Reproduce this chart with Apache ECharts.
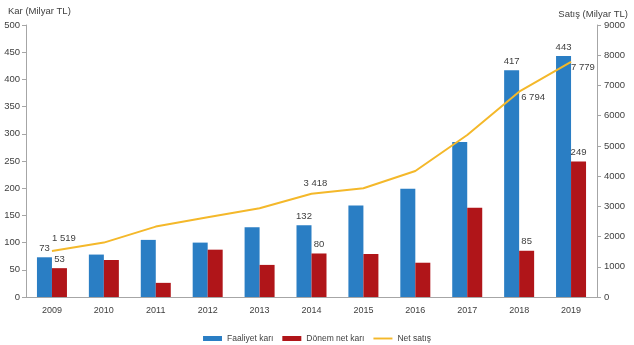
<!DOCTYPE html>
<html><head><meta charset="utf-8">
<script src="https://cdn.jsdelivr.net/npm/echarts@6/dist/echarts.min.js"></script>
<style>html,body{margin:0;padding:0;background:#fff}#c{width:634px;height:345px}</style>
</head><body><div id="c"></div>
<script>
const years = ['2009','2010','2011','2012','2013','2014','2015','2016','2017','2018','2019'];
const faaliyetKari = [73, 78, 105, 100, 128, 132, 168, 199, 285, 417, 443];
const donemNetKari = [53, 68, 26, 87, 59, 80, 79, 63, 164, 85, 249];
const netSatis = [1519, 1800, 2330, 2640, 2935, 3418, 3600, 4170, 5360, 6794, 7779];
const faaliyetLabelIdx = [0, 5, 9, 10];
const donemLabelIdx = [0, 5, 9, 10];
const satisLabelIdx = [0, 5, 9, 10];

const txt = '#404040';
const font = 'Liberation Sans';
function fmt(v){ return String(v).replace(/\B(?=(\d{3})+(?!\d))/g, ' '); }

const chart = echarts.init(document.getElementById('c'));
chart.setOption({
  animation: false,
  textStyle: {fontFamily: font, color: txt},
  grid: {left: 26, right: 37, top: 25, bottom: 48},
  legend: {
    top: 329, left: 'center', itemWidth: 19, itemHeight: 5, itemGap: 9,
    textStyle: {fontFamily: font, fontSize: 8.5, color: txt},
    data: [{name:'Faaliyet karı', icon:'rect'}, {name:'Dönem net karı', icon:'rect'},
           {name:'Net satış', icon:'path://M0,0 L20,0 L20,2 L0,2 Z'}]
  },
  xAxis: {
    type: 'category', data: years,
    axisLine: {lineStyle: {color: '#a6a6a6'}},
    axisTick: {show: false},
    axisLabel: {color: txt, fontSize: 9, fontFamily: font, margin: 9}
  },
  yAxis: [
    {type: 'value', min: 0, max: 500, interval: 50,
     name: 'Kar (Milyar TL)', nameLocation: 'end', nameGap: 9,
     nameTextStyle: {color: txt, fontSize: 9.5, fontFamily: font, align: 'left', padding: [0,0,0,-18]},
     axisLine: {show: true, lineStyle: {color: '#a6a6a6'}},
     axisTick: {show: true, length: 4, lineStyle: {color: '#a6a6a6'}},
     splitLine: {show: false},
     axisLabel: {color: txt, fontSize: 9.5, fontFamily: font, margin: 6}},
    {type: 'value', min: 0, max: 9000, interval: 1000,
     name: 'Satış (Milyar TL)', nameLocation: 'end', nameGap: 6,
     nameTextStyle: {color: txt, fontSize: 9.5, fontFamily: font, align: 'right', padding: [0,-31,0,0]},
     axisLine: {show: true, lineStyle: {color: '#a6a6a6'}},
     axisTick: {show: true, length: 4, lineStyle: {color: '#a6a6a6'}},
     splitLine: {show: false},
     axisLabel: {color: txt, fontSize: 9.5, fontFamily: font, margin: 7, formatter: v => String(v)}}
  ],
  series: [
    {name: 'Faaliyet karı', type: 'bar', yAxisIndex: 0, barWidth: 15, barGap: '0%',
     itemStyle: {color: '#2a7ec4'},
     data: faaliyetKari.map((v,i)=>({value:v, label:{show: faaliyetLabelIdx.includes(i)}})),
     label: {position: 'top', color: txt, fontSize: 9.5, fontFamily: font, distance: 4}},
    {name: 'Dönem net karı', type: 'bar', yAxisIndex: 0, barWidth: 15, barGap: '0%',
     itemStyle: {color: '#b01519'},
     data: donemNetKari.map((v,i)=>({value:v, label:{show: donemLabelIdx.includes(i)}})),
     label: {position: 'top', color: txt, fontSize: 9.5, fontFamily: font, distance: 4}},
    {name: 'Net satış', type: 'line', yAxisIndex: 1, symbol: 'circle', symbolSize: 0.1, showSymbol: true,
     lineStyle: {color: '#f4b82a', width: 2}, itemStyle: {color: '#f4b82a'},
     data: netSatis.map((v,i)=>{
       const o = {value: v, label: {show: satisLabelIdx.includes(i)}};
       if (i === 0) { o.label.offset = [12, -3]; }
       if (i === 5) { o.label.offset = [4, 0]; }
       if (i === 9) { o.label.position = 'right'; o.label.offset = [-3, 6]; }
       if (i === 10) { o.label.position = 'right'; o.label.offset = [-5, 5]; }
       return o;
     }),
     label: {position: 'top', color: txt, fontSize: 9.5, fontFamily: font, distance: 5, formatter: p=>fmt(p.value)}}
  ]
});
</script></body></html>
